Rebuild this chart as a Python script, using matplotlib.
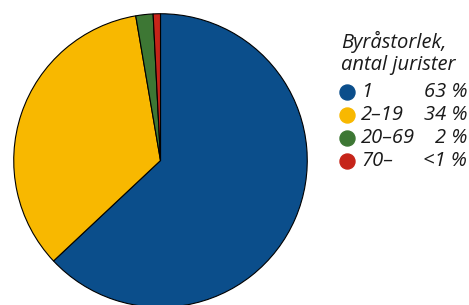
import matplotlib.pyplot as plt

# data
labels = ['1', '2–19', '20–69', '70–']
values = [63.0, 34.3, 1.9, 0.8]
pct_text = ['63 %', '34 %', '2 %', '<1 %']
colors = ['#0B4E8B', '#F8B800', '#3D7734', '#C62419']
title = 'Byråstorlek,\nantal jurister'

W, H = 469, 305
fig = plt.figure(figsize=(W/100, H/100), dpi=100)

# pie axes: center ~(160.5,160.5), radius ~147.5 px (bottom slightly clipped)
cx, cy, r = 160.5, 160.5, 147.5
ax = fig.add_axes([(cx-r)/W, 1-(cy+r)/H, 2*r/W, 2*r/H])
ax.pie(values, colors=colors, startangle=90, counterclock=False,
       wedgeprops=dict(edgecolor='black', linewidth=0.8))
ax.set_xlim(-1.005, 1.005)
ax.set_ylim(-1.005, 1.005)
ax.set_aspect('equal')

# legend
font = dict(family=['Open Sans', 'DejaVu Sans'], style='italic', fontsize=14.5, color='#1a1a1a')
fig.text(341/W, 1-70/H, title, va='baseline', ha='left', linespacing=1.15, **font)

lax = fig.add_axes([0, 0, 1, 1])
lax.set_xlim(0, W)
lax.set_ylim(H, 0)
lax.axis('off')
ys = [92, 115, 138, 161]
for i in range(len(labels)):
    lax.plot(347, ys[i], 'o', color=colors[i], markersize=10.8)
    lax.text(361, ys[i], labels[i], va='center', ha='left', **font)
    lax.text(467, ys[i], pct_text[i], va='center', ha='right', **font)

fig.savefig('out.png', dpi=100)
